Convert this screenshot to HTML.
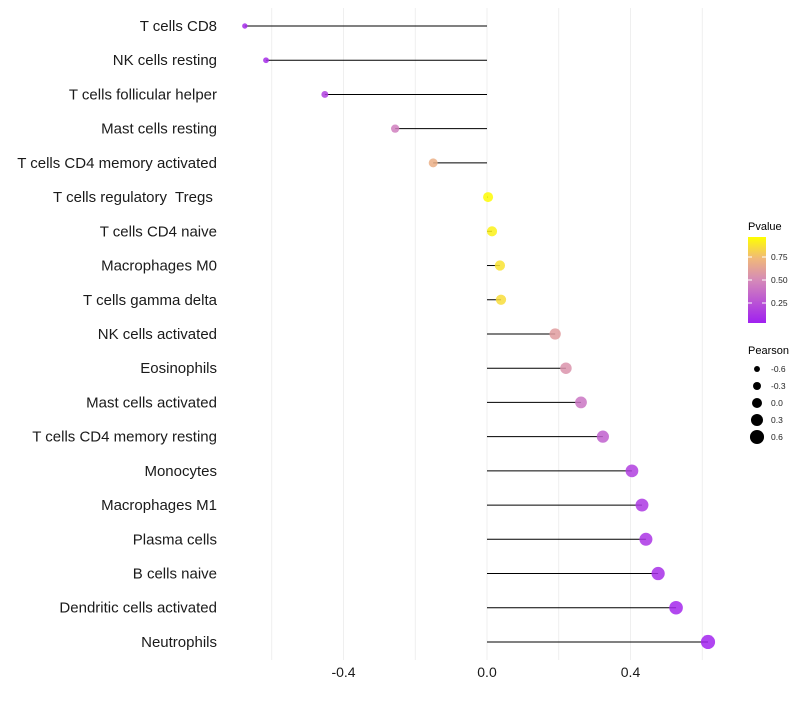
<!DOCTYPE html>
<html><head><meta charset="utf-8"><style>
body{margin:0;background:#fff;}
svg{font-family:"Liberation Sans",sans-serif;}
text{white-space:pre;}
</style></head><body>
<svg id="c" width="800" height="700">
<defs><linearGradient id="pg" x1="0" y1="1" x2="0" y2="0">
<stop offset="0" stop-color="#a020f0"/><stop offset="0.5" stop-color="#d58ab8"/><stop offset="0.75" stop-color="#f0b87a"/><stop offset="1" stop-color="#ffff00"/></linearGradient></defs>
<g id="grid"></g><g id="marks"></g><g id="labels"></g><g id="legend"></g>
</svg>
<script>
const categories=["T cells CD8","NK cells resting","T cells follicular helper","Mast cells resting","T cells CD4 memory activated","T cells regulatory  Tregs ","T cells CD4 naive","Macrophages M0","T cells gamma delta","NK cells activated","Eosinophils","Mast cells activated","T cells CD4 memory resting","Monocytes","Macrophages M1","Plasma cells","B cells naive","Dendritic cells activated","Neutrophils"];
const pearson=[-0.675,-0.616,-0.452,-0.256,-0.15,0.003,0.014,0.036,0.039,0.19,0.22,0.262,0.323,0.404,0.432,0.443,0.477,0.527,0.616];
const pvalue=[0.05,0.06,0.15,0.45,0.7,0.99,0.95,0.9,0.88,0.6,0.55,0.4,0.3,0.15,0.12,0.1,0.07,0.04,0.02];
const xTicks=[-0.4,0.0,0.4];
const gridVals=[-0.6,-0.4,-0.2,0,0.2,0.4,0.6];
const sizeLegend=[-0.6,-0.3,0.0,0.3,0.6];
const pTicks=[0.25,0.5,0.75];
const NS="http://www.w3.org/2000/svg";
const x=v=>487+v*358.75;
const y=i=>26+i*34.22;
const r=v=>5+v*3.4;
function col(p){const stops=[[0,[160,32,240]],[0.5,[213,138,184]],[0.75,[240,184,122]],[1,[255,255,0]]];
for(let k=1;k<stops.length;k++){if(p<=stops[k][0]){const a=stops[k-1],b=stops[k];const t=(p-a[0])/(b[0]-a[0]);return "rgb("+a[1].map((c,j)=>Math.round(c+(b[1][j]-c)*t)).join(",")+")";}}return "rgb(255,255,0)";}
function mk(t,at,parent){const e=document.createElementNS(NS,t);for(const k in at)e.setAttribute(k,at[k]);document.getElementById(parent).appendChild(e);return e;}
gridVals.forEach(v=>{const l=mk("line",{x1:x(v),x2:x(v),y1:8,y2:660,stroke:"#ebebeb","stroke-width":0.8},"grid");

});
categories.forEach((c,i)=>{
const ln=mk("line",{x1:x(0),x2:x(pearson[i]),y1:y(i),y2:y(i),stroke:"#000","stroke-width":1},"marks");


const d=mk("circle",{cx:x(pearson[i]),cy:y(i),r:r(pearson[i]),fill:col(pvalue[i]),"fill-opacity":0.85},"marks");


const t=mk("text",{x:217,y:y(i)+5,"text-anchor":"end","font-size":15,fill:"#1a1a1a"},"labels");t.textContent=c;

});
xTicks.forEach(v=>{const t=mk("text",{x:x(v),y:677,"text-anchor":"middle","font-size":14,fill:"#1a1a1a"},"labels");t.textContent=v.toFixed(1);

});
const pt=mk("text",{x:748,y:230,"font-size":11,fill:"#000"},"legend");pt.textContent="Pvalue";


const bar=mk("rect",{x:748,y:237,width:18,height:86,fill:"url(#pg)"},"legend");


pTicks.forEach(p=>{const yy=326-p*92;mk("line",{x1:748,x2:752,y1:yy,y2:yy,stroke:"#fff"},"legend");mk("line",{x1:762,x2:766,y1:yy,y2:yy,stroke:"#fff"},"legend");
const t=mk("text",{x:771,y:yy+3,"font-size":8.5,fill:"#222"},"legend");t.textContent=p.toFixed(2);

});
const st=mk("text",{x:748,y:354,"font-size":11,fill:"#000"},"legend");st.textContent="Pearson";


sizeLegend.forEach((v,k)=>{const yy=369+k*17;const c=mk("circle",{cx:757,cy:yy,r:r(v),fill:"#000"},"legend");


const t=mk("text",{x:771,y:yy+3,"font-size":8.5,fill:"#222"},"legend");t.textContent=v.toFixed(1);

});
</script>
</body></html>
